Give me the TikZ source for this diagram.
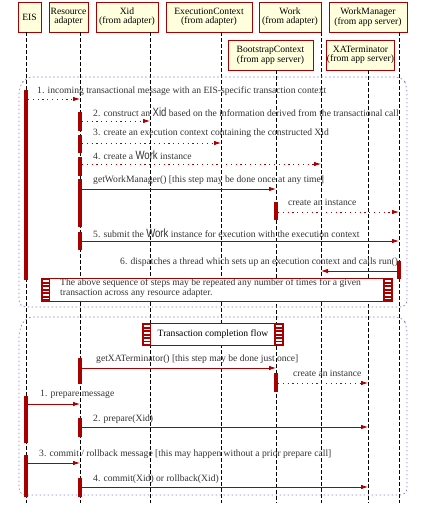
\documentclass[tikz,border=0pt]{standalone}
\usepackage{fontspec}
\setmainfont{Liberation Serif}
\newfontfamily\oddfont{Liberation Sans}
\usetikzlibrary{arrows.meta}
\definecolor{dred}{HTML}{A80000}
\definecolor{boxfill}{HTML}{FFFFDD}
\definecolor{frameblue}{HTML}{7C7CF0}
\newcommand{\odd}[1]{\scalebox{0.8}[1]{\oddfont\fontsize{12}{12}\selectfont #1}}
\begin{document}
\begin{tikzpicture}[x=1pt,y=-1pt,
  txt/.style={font=\fontsize{9.6}{8.7}\selectfont},
  hdr/.style={txt,draw=dred,line width=0.9pt,fill=boxfill,inner sep=0pt,align=center},
  life/.style={black,line width=0.6pt,dash pattern=on 3.5pt off 2.5pt},
  bar/.style={fill=dred},
  msg/.style={dred,line width=0.8pt,-{Latex[length=7pt,width=4.5pt]}},
  dmsg/.style={msg,dash pattern=on 1.2pt off 3.6pt},
  lbl/.style={txt,anchor=west,inner sep=0pt,text=black!80},
  frame/.style={frameblue,line width=0.7pt,dash pattern=on 1.5pt off 2.5pt,rounded corners=7pt},
  note/.style={draw=dred,line width=0.9pt,fill=white}
]
\useasboundingbox (0,0) rectangle (437,513);

% header boxes
\node[hdr,minimum width=23,minimum height=30] (eis) at (29.5,17) {EIS};
\node[hdr,minimum width=39,minimum height=30] (ra) at (68.5,17) {Resource\\adapter};
\node[hdr,minimum width=62,minimum height=30] (xid) at (127,17) {Xid\\(from adapter)};
\node[hdr,minimum width=86,minimum height=30] (ec) at (209,17) {ExecutionContext\\(from adapter)};
\node[hdr,minimum width=62,minimum height=30] (work) at (290,17) {Work\\(from adapter)};
\node[hdr,minimum width=78,minimum height=30] (wm) at (368,17) {WorkManager\\(from app server)};
\node[hdr,minimum width=85,minimum height=30] (bc) at (270.5,55) {BootstrapContext\\(from app server)};
\node[hdr,minimum width=63,minimum height=30] (xat) at (360.5,55) {XATerminator\\(from app server)};

% lifelines
\draw[life] (eis.south -| 26,0) -- (26,503);
\draw[life] (ra.south -| 80,0) -- (80,503);
\draw[life] (xid.south -| 150,0) -- (150,503);
\draw[life] (ec.south -| 221,0) -- (221,503);
\draw[life] (bc.south -| 276,0) -- (276,503);
\draw[life] (work.south -| 321,0) -- (321,503);
\draw[life] (xat.south -| 368,0) -- (368,503);
\draw[life] (wm.south -| 399,0) -- (399,503);

% frames
\draw[frame] (26,77) -- (403,77) -- (407,87) -- (407,307) -- (19,307) -- (19,87) -- cycle;
\draw[frame] (26,317) -- (403,317) -- (407,327) -- (407,495) -- (19,495) -- (19,330) -- cycle;

% activation bars
\fill[bar] (24,90) rectangle (28,280);
\fill[bar] (24,396) rectangle (28,443);
\fill[bar] (24,455) rectangle (28,497);
\foreach \a/\b in {112/131,135/153,157/176,179/227,232/250,358/384,418/437,478/497}
  \fill[bar] (78,\a) rectangle (82,\b);
\fill[bar] (274,202) rectangle (278,220);
\fill[bar] (274,373) rectangle (278,392);
\fill[bar] (397,261) rectangle (401,279);

% endpoints
\coordinate (m1s) at (28,99);   \coordinate (m1e) at (80,99);
\coordinate (m2s) at (82,121);  \coordinate (m2e) at (150,121);
\coordinate (m3s) at (82,143);  \coordinate (m3e) at (221,143);
\coordinate (m4s) at (82,164);  \coordinate (m4e) at (321,164);
\coordinate (gws) at (82,189);  \coordinate (gwe) at (276,189);
\coordinate (cis) at (278,212); \coordinate (cie) at (399,212);
\coordinate (m5s) at (82,241);  \coordinate (m5e) at (399,241);
\coordinate (m6s) at (397,271); \coordinate (m6e) at (321,271);
\coordinate (gxs) at (82,368);  \coordinate (gxe) at (276,368);
\coordinate (c2s) at (278,383); \coordinate (c2e) at (368,383);
\coordinate (p1s) at (28,404);  \coordinate (p1e) at (80,404);
\coordinate (p2s) at (82,427);  \coordinate (p2e) at (368,427);
\coordinate (k1s) at (28,463);  \coordinate (k1e) at (80,463);
\coordinate (k2s) at (82,487);  \coordinate (k2e) at (368,487);

% messages
\draw[dmsg] (m1s) -- (m1e);
\draw[dmsg] (m2s) -- (m2e);
\draw[dmsg] (m3s) -- (m3e);
\draw[dmsg] (m4s) -- (m4e);
\draw[msg] (gws) -- (gwe);
\draw[dmsg] (cis) -- (cie);
\draw[msg] (m5s) -- (m5e);
\draw[msg] (m6s) -- (m6e);
\draw[msg] (gxs) -- (gxe);
\draw[dmsg] (c2s) -- (c2e);
\draw[msg] (p1s) -- (p1e);
\draw[msg] (p2s) -- (p2e);
\draw[msg] (k1s) -- (k1e);
\draw[msg] (k2s) -- (k2e);

% labels
\node[lbl] (l1) at (37,91) {1. incoming transactional message with an EIS-specific transaction context};
\node[lbl] (l2) at (93,112) {2. construct an \odd{Xid} based on the information derived from the transactional call};
\node[lbl] (l3) at (93,133) {3. create an execution context containing the constructed Xid};
\node[lbl] (l4) at (93,155) {4. create a \odd{Work} instance};
\node[lbl] (l5) at (93,180) {getWorkManager() [this step may be done once at any time]};
\node[lbl] (l6) at (288,202) {create an instance};
\node[lbl] (l7) at (93,233) {5. submit the \odd{Work} instance for execution with the execution context};
\node[lbl] (l8) at (120,262) {6. dispatches a thread which sets up an execution context and calls run()};
\node[lbl] (l9) at (96,359) {getXATerminator() [this step may be done just once]};
\node[lbl] (l10) at (293,373) {create an instance};
\node[lbl] (l11) at (40,394) {1. prepare message};
\node[lbl] (l12) at (93,419) {2. prepare(Xid)};
\node[lbl] (l13) at (39,454) {3. commit / rollback message [this may happen without a prior prepare call]};
\node[lbl] (l14) at (93,479) {4. commit(Xid) or rollback(Xid)};

% note box
\draw[note] (41,278) rectangle (392,301);
\foreach \x in {41,383}{
  \fill[dred] (\x,278) rectangle (\x+9,301);
  \foreach \y in {281,284.5,288,291.5,295,298.5}
    \draw[white,line width=1.4pt] (\x+1.5,\y) -- (\x+7.5,\y);
}
\node[lbl,align=left] (n1) at (60,288.5) {The above sequence of steps may be repeated any number of times for a given\\transaction across any resource adapter.};

% completion flow box
\draw[note] (142,323) rectangle (283,345);
\foreach \x in {142,274}{
  \fill[dred] (\x,323) rectangle (\x+9,345);
  \foreach \y in {326,329.5,333,336.5,340,343}
    \draw[white,line width=1.4pt] (\x+1.5,\y) -- (\x+7.5,\y);
}
\node[txt,inner sep=0pt] (tc) at (213,334) {Transaction completion flow};
\end{tikzpicture}
\end{document}
